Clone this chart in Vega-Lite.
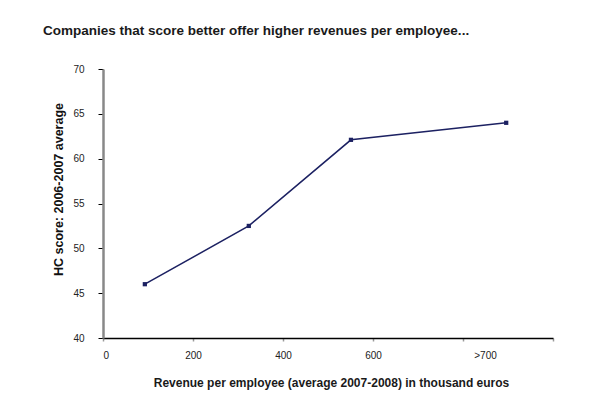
{
  "$schema": "https://vega.github.io/schema/vega-lite/v6.json",
  "width": 450,
  "height": 269,
  "autosize": {"type": "none"},
  "padding": {"left": 103, "top": 69, "right": 45, "bottom": 66},
  "background": "white",
  "title": {
    "text": "Companies that score better offer higher revenues per employee...",
    "font": "Liberation Sans",
    "fontSize": 13.5,
    "fontWeight": "bold",
    "color": "#1a1a1a",
    "anchor": "start",
    "frame": "group",
    "dx": -60,
    "offset": 27
  },
  "data": {
    "values": [
      {"revenue": 93, "score": 46.0},
      {"revenue": 324, "score": 52.5},
      {"revenue": 551, "score": 62.1},
      {"revenue": 896, "score": 64.0}
    ]
  },
  "mark": {"type": "line", "color": "#1c2162", "strokeWidth": 1.5, "point": {"filled": true, "shape": "square", "size": 18, "color": "#1c2162"}},
  "encoding": {
    "x": {
      "field": "revenue",
      "type": "quantitative",
      "scale": {"domain": [0, 1000], "nice": false, "zero": true},
      "axis": {
        "values": [0, 200, 400, 600, 800, 1000],
        "labelExpr": "datum.value == 800 ? '>700' : (datum.value == 1000 ? '' : datum.label)",
        "labelOffset": {"condition": {"test": "datum.value == 800", "value": 22}, "value": 0},
        "title": "Revenue per employee (average 2007-2008) in thousand euros",
        "titleFont": "Liberation Sans",
        "titleFontSize": 12,
        "titleFontWeight": "bold",
        "titleColor": "#1a1a1a",
        "titlePadding": 17,
        "titleX": 228,
        "labelFont": "Liberation Sans",
        "labelFontSize": 10,
        "labelColor": "#222222",
        "labelPadding": 9,
        "domainColor": "#000000",
        "domainWidth": 1.5,
        "tickColor": "#999999",
        "tickSize": 3,
        "tickWidth": 1.5,
        "grid": false
      }
    },
    "y": {
      "field": "score",
      "type": "quantitative",
      "scale": {"domain": [40, 70], "nice": false, "zero": false},
      "axis": {
        "values": [40, 45, 50, 55, 60, 65, 70],
        "title": "HC score: 2006-2007 average",
        "titleFont": "Liberation Sans",
        "titleFontSize": 12.5,
        "titleFontWeight": "bold",
        "titleColor": "#111111",
        "titlePadding": 7,
        "titleY": 120,
        "labelFont": "Liberation Sans",
        "labelFontSize": 10,
        "labelColor": "#222222",
        "labelPadding": 14,
        "domainColor": "#888888",
        "domainWidth": 2.5,
        "tickColor": "#000000",
        "tickSize": 5,
        "grid": false
      }
    }
  },
  "config": {"view": {"stroke": null}}
}
